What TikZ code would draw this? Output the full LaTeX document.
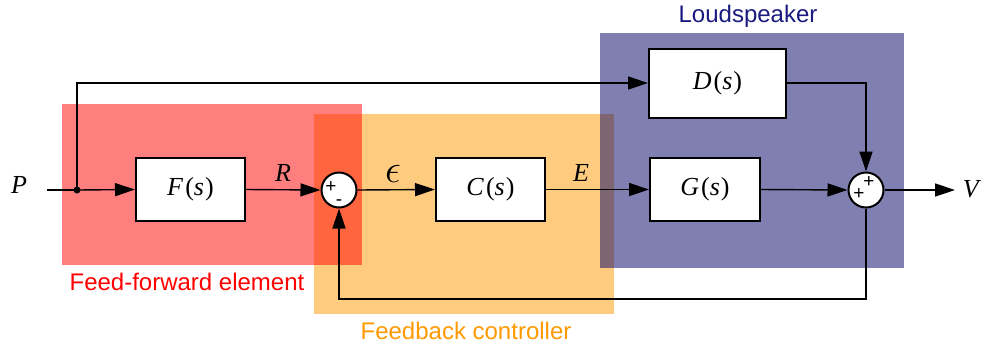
\documentclass[tikz,border=0pt]{standalone}
\usepackage{fontspec}
\setmainfont{Liberation Serif}
\newfontfamily\labelfont{Liberation Sans}
\usetikzlibrary{arrows.meta}
\definecolor{ffred}{HTML}{FF0000}
\definecolor{fborange}{HTML}{FF9900}
\definecolor{lsblue}{HTML}{000066}
\definecolor{lstext}{HTML}{1A1A80}
\newcommand{\tf}[1]{\textit{#1}\hspace{2pt}(\textit{s}\hspace{1pt})}
\begin{document}
\begin{tikzpicture}[x=1pt,y=-1pt,
  blk/.style={draw,line width=2pt,fill=white,inner sep=0pt,font=\fontsize{26}{30}\selectfont},
  sumnode/.style={draw,circle,line width=2pt,fill=white,minimum size=35pt,inner sep=0pt},
  sig/.style={line width=1.4pt,-{Triangle[length=20pt,width=13pt]}},
  wire/.style={line width=1.4pt},
  lab/.style={font=\fontsize{26}{30}\selectfont},
  sgn/.style={font=\labelfont\fontsize{19}{20}\selectfont,inner sep=0pt},
  region/.style={fill opacity=0.5},
  rlabel/.style={font=\labelfont\fontsize{24}{28}\selectfont}]
\useasboundingbox (0,0) rectangle (984,349);
% regions
\fill[fborange,region] (314,114) rectangle (614,314);
\fill[ffred,region] (62,104) rectangle (362,265);
\fill[lsblue,region] (600,33) rectangle (904,268);
\node[rlabel,text=lstext] (lsl) at (748,16) {Loudspeaker};
\node[rlabel,text=ffred] (ffl) at (187,282) {Feed-forward element};
\node[rlabel,text=fborange] (fbl) at (466,331) {Feedback controller};
% blocks
\node[blk,minimum width=109pt,minimum height=63pt] (F) at (190.5,189.5) {\tf{F}};
\node[blk,minimum width=109pt,minimum height=63pt] (C) at (490.5,189.5) {\tf{C}};
\node[blk,minimum width=110pt,minimum height=63pt] (G) at (705,189.5) {\tf{G}};
\node[blk,minimum width=137pt,minimum height=69pt] (D) at (717.5,83) {\tf{D}};
\node[sumnode] (S1) at (339,190) {};
\node[sumnode] (S2) at (866,190) {};
\node[sgn] (p1) at (331,187) {+};
\node[sgn] (m1) at (339,203) {-};
\node[sgn] (p2) at (869,182) {+};
\node[sgn] (p3) at (859,194) {+};
% labels
\node[lab] (P) at (19,185) {\textit{P}};
\node[lab] (V) at (972,189) {\textit{V}};
\node[lab] (R) at (283,173) {\textit{R}};
\node[lab] (eps) at (393,174) {\scalebox{1.6}{$\epsilon$}};
\node[lab] (E) at (581,173) {\textit{E}};
\coordinate (pin) at (47,190);
\coordinate (jn) at (77,190);
\coordinate (vout) at (955,190);
% wires
\draw[wire] (pin) -- (jn);
\fill (jn) circle (3.5pt);
\draw[sig] (jn) -- (F.west);
\draw[sig] (jn) |- (D.west);
\draw[sig] (F.east) -- (S1.west);
\draw[sig] (S1.east) -- (C.west);
\draw[sig] (C.east) -- (G.west);
\draw[sig] (G.east) -- (S2.west);
\draw[sig] (D.east) -| (S2.north);
\draw[sig] (S2.east) -- (vout);
\draw[sig] (S2.south) -- ++(0,90.5) -| (S1.south);
\end{tikzpicture}
\end{document}
